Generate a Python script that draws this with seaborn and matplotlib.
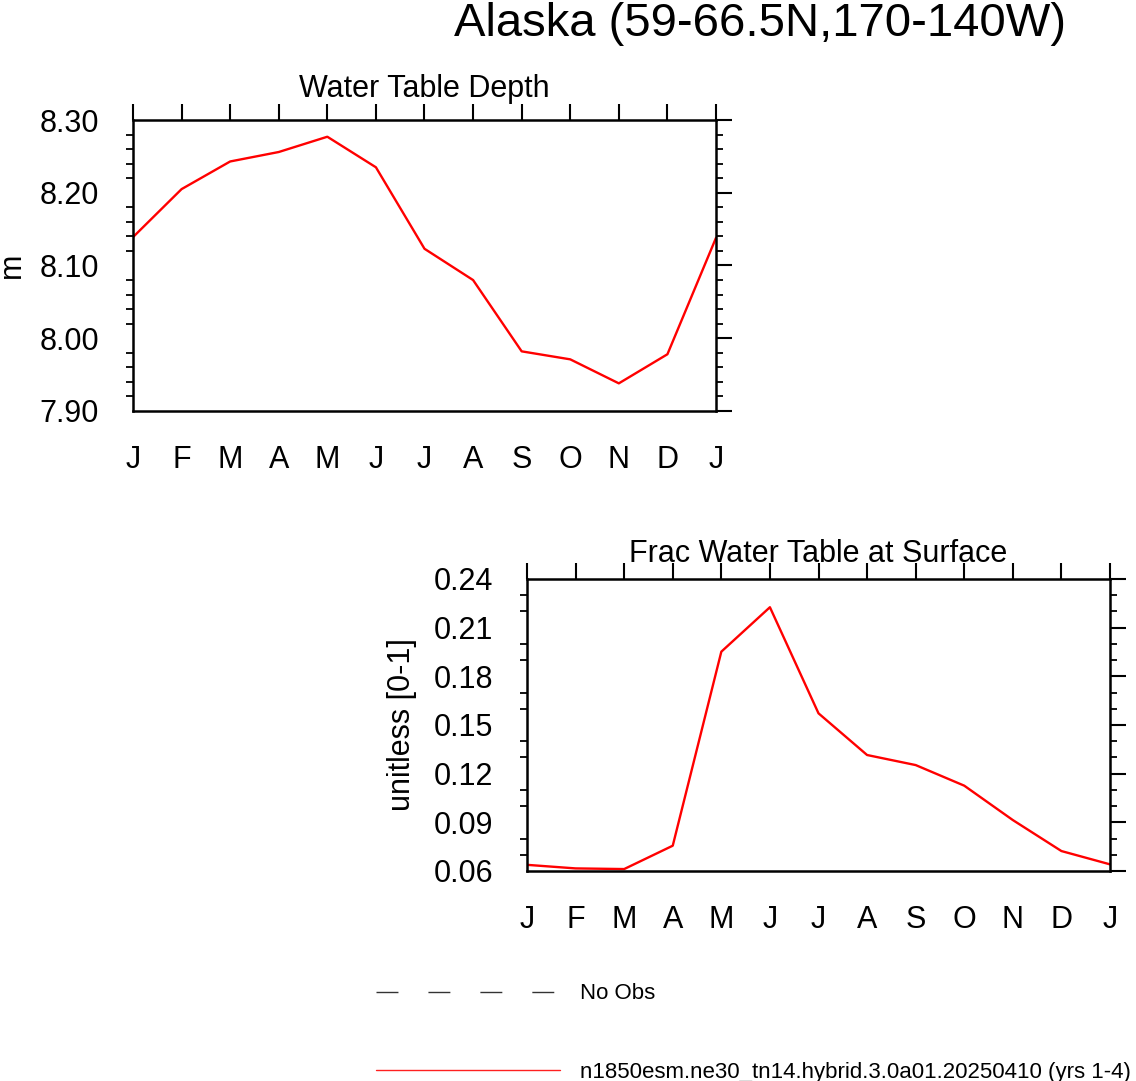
import numpy as np
import pandas as pd
import matplotlib
matplotlib.use("Agg")
import matplotlib.pyplot as plt
import seaborn as sns
from matplotlib.ticker import MultipleLocator, FormatStrFormatter, FixedLocator, FixedFormatter
from matplotlib.lines import Line2D

# ---- data ----
months = ["J", "F", "M", "A", "M", "J", "J", "A", "S", "O", "N", "D", "J"]
month_idx = list(range(13))
water_table_depth = [8.139, 8.205, 8.243, 8.256, 8.277, 8.235, 8.123, 8.080,
                     7.982, 7.971, 7.938, 7.978, 8.138]
frac_wt_surface = [0.0638, 0.0616, 0.0612, 0.0756, 0.1952, 0.2226, 0.1572,
                   0.1315, 0.1253, 0.1126, 0.0914, 0.0723, 0.0641]
title = "Alaska (59-66.5N,170-140W)"
panel_titles = ["Water Table Depth", "Frac Water Table at Surface"]
ylabels = ["m", "unitless [0-1]"]
legend_labels = ["No Obs", "n1850esm.ne30_tn14.hybrid.3.0a01.20250410 (yrs 1-4)"]

sns.set_style("white")
plt.rcParams['font.family'] = ['Liberation Sans', 'DejaVu Sans']
plt.rcParams['text.color'] = 'black'
plt.rcParams['axes.labelcolor'] = 'black'
plt.rcParams['xtick.color'] = 'black'
plt.rcParams['ytick.color'] = 'black'

W, H = 1136, 1081
fig = plt.figure(figsize=(W / 100, H / 100), dpi=100)

def px_rect(l, t, r, b):
    return [l / W, 1 - b / H, (r - l) / W, (b - t) / H]

ax1 = fig.add_axes(px_rect(133, 120, 716, 411))
ax2 = fig.add_axes(px_rect(527, 579, 1110, 871))

df1 = pd.DataFrame({"month": month_idx, "val": water_table_depth})
df2 = pd.DataFrame({"month": month_idx, "val": frac_wt_surface})

sns.lineplot(data=df1, x="month", y="val", ax=ax1, color="red", lw=1.7)
sns.lineplot(data=df2, x="month", y="val", ax=ax2, color="red", lw=1.7)

FS = 22
def style(ax, ylim, major, minor, ptitle, ylab, title_off, ylab_x):
    ax.set_xlim(0, 12)
    ax.set_ylim(*ylim)
    ax.xaxis.set_major_locator(FixedLocator(month_idx))
    ax.xaxis.set_major_formatter(FixedFormatter(months))
    ax.yaxis.set_major_locator(MultipleLocator(major))
    ax.yaxis.set_minor_locator(MultipleLocator(minor))
    ax.yaxis.set_major_formatter(FormatStrFormatter("%.2f"))
    for s in ax.spines.values():
        s.set_linewidth(1.8)
        s.set_color("black")
    ax.tick_params(axis="both", which="major", direction="out", length=11.5,
                   width=1.5, color="black", labelcolor="black", labelsize=FS,
                   pad=13, top=True, right=True, labeltop=False, labelright=False)
    ax.tick_params(axis="y", which="minor", direction="out", length=4.8,
                   width=1.3, color="black", left=True, right=True)
    ax.set_xlabel("")
    ax.set_ylabel(ylab, fontsize=FS, color="black")
    ax.yaxis.set_label_coords(ylab_x, 0.5)
    ax.text(0.5, 1 + title_off, ptitle, transform=ax.transAxes,
            ha="center", va="baseline", fontsize=FS, color="black")

style(ax1, (7.9, 8.3), 0.1, 0.02, panel_titles[0], ylabels[0], 23 / 291, -0.182)
style(ax2, (0.06, 0.24), 0.03, 0.01, panel_titles[1], ylabels[1], 17 / 292, -0.188)

fig.text(760 / W, 1 - 24 / H, title, ha="center", va="center", fontsize=34,
         color="black")

handles = [
    Line2D([], [], color="#333333", lw=1.0, dashes=(15.8, 21.6)),
    Line2D([], [], color="#ff2020", lw=1.0),
]
fig.legend(handles, legend_labels, loc="center left",
           bbox_to_anchor=(376 / W, 1 - 1033 / H), frameon=False,
           fontsize=16, handlelength=8.3, handletextpad=0.9,
           labelspacing=2.58, borderpad=0, borderaxespad=0,
           labelcolor="black")

fig.savefig("out.png", dpi=100, facecolor="white")
